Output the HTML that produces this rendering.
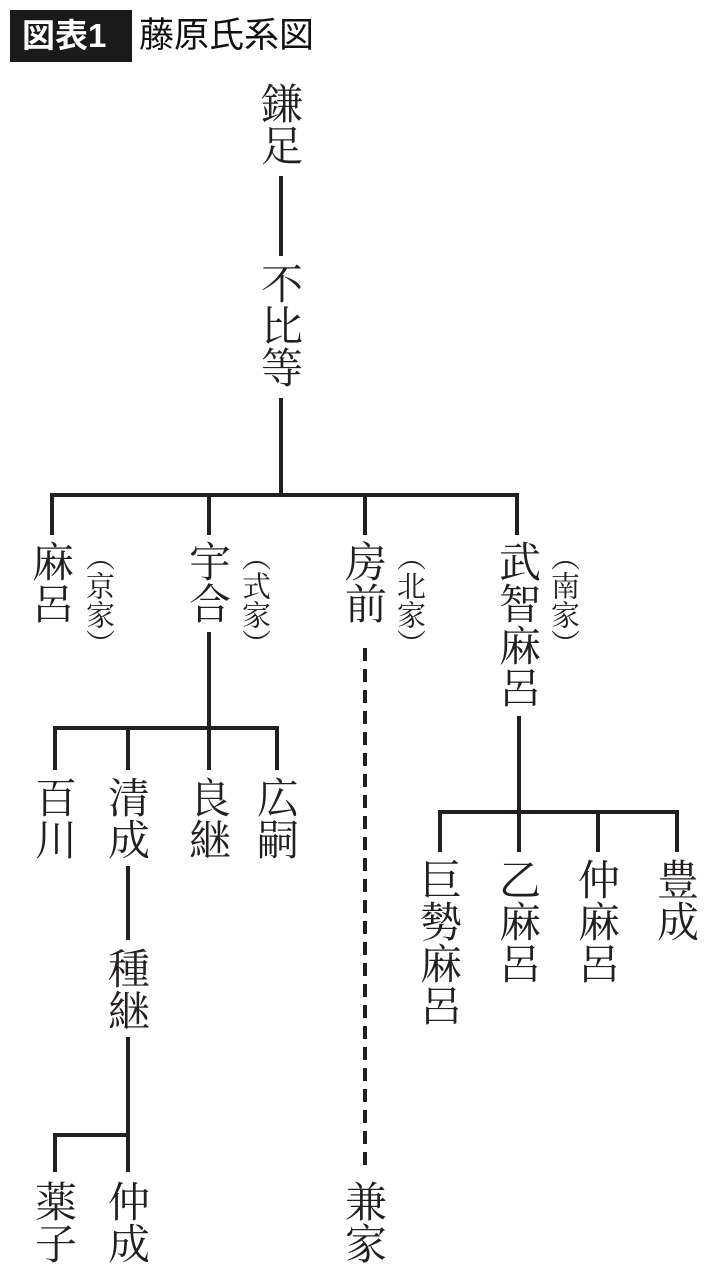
<!DOCTYPE html>
<html><head><meta charset="utf-8"><style>
html,body{margin:0;padding:0;background:#fff;}
body{width:710px;height:1278px;position:relative;overflow:hidden;font-family:"Noto Serif CJK SC","Noto Serif CJK JP","Liberation Serif",serif;color:#231f20;}
.n{position:absolute;width:44px;font-size:42px;line-height:42px;writing-mode:vertical-rl;text-align:left;white-space:nowrap;}
.f{position:absolute;width:32px;font-size:29px;line-height:32px;writing-mode:vertical-rl;white-space:nowrap;}
svg{position:absolute;left:0;top:0;}
</style></head><body>
<div style="position:absolute;left:10px;top:10px;width:122px;height:52px;background:#1a1a1a;"></div>
<div style="position:absolute;left:22px;top:13px;font-family:'Liberation Sans','Noto Sans CJK JP',sans-serif;font-weight:bold;font-size:33px;line-height:46px;color:#fff;">図表1</div>
<div style="position:absolute;left:139px;top:13px;font-family:'Liberation Sans','Noto Sans CJK JP',sans-serif;font-size:35px;line-height:46px;color:#111;">藤原氏系図</div>
<svg width="710" height="1278" stroke="#231f20" stroke-width="4" fill="none">
<line x1="281" y1="176" x2="281" y2="256"/>
<line x1="281" y1="398" x2="281" y2="497"/>
<polyline points="52,535 52,495 517,495 517,535"/>
<line x1="209" y1="495" x2="209" y2="535"/>
<line x1="365" y1="495" x2="365" y2="535"/>
<line x1="209" y1="632" x2="209" y2="770"/>
<polyline points="55,770 55,728 277,728 277,770"/>
<line x1="128" y1="728" x2="128" y2="770"/>
<line x1="128" y1="866" x2="128" y2="940"/>
<line x1="128" y1="1037" x2="128" y2="1172"/>
<polyline points="55,1172 55,1135 128,1135"/>
<line x1="365" y1="648" x2="365" y2="1172" stroke-dasharray="13,8"/>
<line x1="519" y1="716" x2="519" y2="852"/>
<polyline points="440,852 440,812 677,812 677,852"/>
<line x1="598" y1="812" x2="598" y2="852"/>
</svg>
<div class="n" style="left:259px;top:82px;">鎌足</div>
<div class="n" style="left:259px;top:262px;">不比等</div>
<div class="n" style="left:30px;top:540px;">麻呂</div>
<div class="f" style="left:84px;top:542px;">（京家）</div>
<div class="n" style="left:187px;top:540px;">宇合</div>
<div class="f" style="left:240px;top:542px;">（式家）</div>
<div class="n" style="left:343px;top:540px;">房前</div>
<div class="f" style="left:395px;top:542px;">（北家）</div>
<div class="n" style="left:497px;top:540px;">武智麻呂</div>
<div class="f" style="left:549px;top:542px;">（南家）</div>
<div class="n" style="left:33px;top:776px;">百川</div>
<div class="n" style="left:106px;top:776px;">清成</div>
<div class="n" style="left:187px;top:776px;">良継</div>
<div class="n" style="left:255px;top:776px;">広嗣</div>
<div class="n" style="left:106px;top:947px;">種継</div>
<div class="n" style="left:33px;top:1180px;">薬子</div>
<div class="n" style="left:106px;top:1180px;">仲成</div>
<div class="n" style="left:343px;top:1180px;">兼家</div>
<div class="n" style="left:418px;top:858px;">巨勢麻呂</div>
<div class="n" style="left:497px;top:858px;">乙麻呂</div>
<div class="n" style="left:576px;top:858px;">仲麻呂</div>
<div class="n" style="left:655px;top:858px;">豊成</div>
</body></html>
